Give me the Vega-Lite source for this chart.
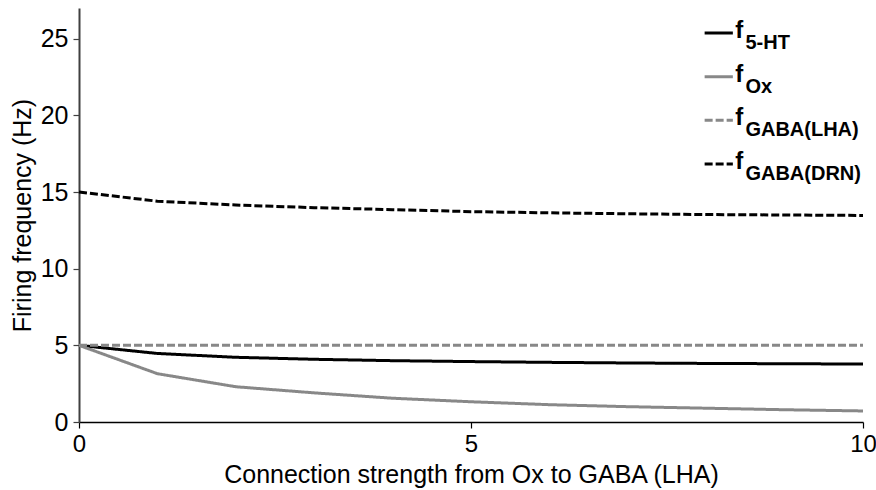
{
  "$schema": "https://vega.github.io/schema/vega-lite/v6.json",
  "width": 784,
  "height": 414,
  "autosize": "none",
  "padding": {"left": 79, "top": 8, "right": 13, "bottom": 68},
  "config": {
    "font": "Liberation Sans",
    "view": {"stroke": null},
    "axis": {"grid": false}
  },
  "datasets": {
    "curves": [
      {"g": 0, "series": "5-HT", "f": 5.0},
      {"g": 1, "series": "5-HT", "f": 4.47},
      {"g": 2, "series": "5-HT", "f": 4.22},
      {"g": 3, "series": "5-HT", "f": 4.09},
      {"g": 4, "series": "5-HT", "f": 4.0},
      {"g": 5, "series": "5-HT", "f": 3.94},
      {"g": 6, "series": "5-HT", "f": 3.89},
      {"g": 7, "series": "5-HT", "f": 3.85},
      {"g": 8, "series": "5-HT", "f": 3.82},
      {"g": 9, "series": "5-HT", "f": 3.8},
      {"g": 10, "series": "5-HT", "f": 3.78},
      {"g": 0, "series": "Ox", "f": 5.0},
      {"g": 1, "series": "Ox", "f": 3.15},
      {"g": 2, "series": "Ox", "f": 2.3},
      {"g": 3, "series": "Ox", "f": 1.9},
      {"g": 4, "series": "Ox", "f": 1.55},
      {"g": 5, "series": "Ox", "f": 1.32},
      {"g": 6, "series": "Ox", "f": 1.13},
      {"g": 7, "series": "Ox", "f": 1.0},
      {"g": 8, "series": "Ox", "f": 0.9},
      {"g": 9, "series": "Ox", "f": 0.8},
      {"g": 10, "series": "Ox", "f": 0.72},
      {"g": 0, "series": "GABA(LHA)", "f": 5.0},
      {"g": 1, "series": "GABA(LHA)", "f": 5.0},
      {"g": 2, "series": "GABA(LHA)", "f": 5.0},
      {"g": 3, "series": "GABA(LHA)", "f": 5.0},
      {"g": 4, "series": "GABA(LHA)", "f": 5.0},
      {"g": 5, "series": "GABA(LHA)", "f": 5.0},
      {"g": 6, "series": "GABA(LHA)", "f": 5.0},
      {"g": 7, "series": "GABA(LHA)", "f": 5.0},
      {"g": 8, "series": "GABA(LHA)", "f": 5.0},
      {"g": 9, "series": "GABA(LHA)", "f": 5.0},
      {"g": 10, "series": "GABA(LHA)", "f": 5.0},
      {"g": 0, "series": "GABA(DRN)", "f": 15.0},
      {"g": 1, "series": "GABA(DRN)", "f": 14.4},
      {"g": 2, "series": "GABA(DRN)", "f": 14.15},
      {"g": 3, "series": "GABA(DRN)", "f": 13.98},
      {"g": 4, "series": "GABA(DRN)", "f": 13.85},
      {"g": 5, "series": "GABA(DRN)", "f": 13.72},
      {"g": 6, "series": "GABA(DRN)", "f": 13.64},
      {"g": 7, "series": "GABA(DRN)", "f": 13.58},
      {"g": 8, "series": "GABA(DRN)", "f": 13.53},
      {"g": 9, "series": "GABA(DRN)", "f": 13.5},
      {"g": 10, "series": "GABA(DRN)", "f": 13.47}
    ],
    "keys": [
      {"series": "5-HT"},
      {"series": "Ox"},
      {"series": "GABA(LHA)"},
      {"series": "GABA(DRN)"}
    ]
  },
  "encoding": {
    "color": {
      "field": "series",
      "type": "nominal",
      "scale": {
        "domain": ["5-HT", "Ox", "GABA(LHA)", "GABA(DRN)"],
        "range": ["#000000", "#888888", "#888888", "#000000"]
      },
      "legend": null
    },
    "strokeDash": {
      "field": "series",
      "type": "nominal",
      "scale": {
        "domain": ["5-HT", "Ox", "GABA(LHA)", "GABA(DRN)"],
        "range": [[1, 0], [1, 0], [8, 3], [8, 3]]
      },
      "legend": null
    }
  },
  "layer": [
    {
      "data": {"name": "curves"},
      "mark": {"type": "line", "strokeWidth": 3},
      "encoding": {
        "x": {
          "field": "g",
          "type": "quantitative",
          "scale": {"domain": [0, 10], "nice": false, "zero": false},
          "axis": {
            "values": [0, 5, 10],
            "format": "d",
            "title": "Connection strength from Ox to GABA (LHA)",
            "labelFlush": false,
            "labelFontSize": 24,
            "labelColor": "#000000",
            "labelPadding": 4,
            "tickSize": 6,
            "tickColor": "#000000",
            "tickWidth": 1.2,
            "domainColor": "#000000",
            "domainWidth": 1.5,
            "titleFontSize": 25,
            "titleFontWeight": "normal",
            "titleColor": "#000000",
            "titlePadding": 6,
            "titleLimit": 800
          }
        },
        "y": {
          "field": "f",
          "type": "quantitative",
          "scale": {"domain": [0, 27], "nice": false},
          "axis": {
            "values": [0, 5, 10, 15, 20, 25],
            "format": "d",
            "title": "Firing frequency (Hz)",
            "labelFontSize": 25,
            "labelColor": "#000000",
            "labelPadding": 5,
            "tickSize": 6,
            "tickColor": "#404040",
            "tickWidth": 1.2,
            "domainColor": "#404040",
            "domainWidth": 2,
            "titleFontSize": 25,
            "titleFontWeight": "normal",
            "titleColor": "#000000",
            "titlePadding": 5,
            "titleLimit": 600
          }
        },
        "detail": {"field": "series"}
      }
    },
    {
      "data": {"name": "keys"},
      "encoding": {
        "y": {
          "field": "series",
          "type": "ordinal",
          "scale": {
            "type": "point",
            "domain": ["5-HT", "Ox", "GABA(LHA)", "GABA(DRN)"],
            "range": [25, 156],
            "padding": 0
          },
          "axis": null
        }
      },
      "layer": [
        {
          "mark": {"type": "rule", "strokeWidth": 3},
          "encoding": {
            "x": {"datum": 7.98, "type": "quantitative"},
            "x2": {"datum": 8.34}
          }
        },
        {
          "mark": {
            "type": "text",
            "text": "f",
            "align": "left",
            "baseline": "alphabetic",
            "dy": 5,
            "fontSize": 24,
            "fontWeight": "bold",
            "color": "#000000"
          },
          "encoding": {
            "x": {"datum": 8.37, "type": "quantitative"},
            "color": {"value": "#000000"},
            "strokeDash": {"value": [1, 0]}
          }
        },
        {
          "mark": {
            "type": "text",
            "align": "left",
            "baseline": "alphabetic",
            "dy": 16,
            "fontSize": 20,
            "fontWeight": "bold"
          },
          "encoding": {
            "x": {"datum": 8.5, "type": "quantitative"},
            "text": {"field": "series"},
            "color": {"value": "#000000"},
            "strokeDash": {"value": [1, 0]}
          }
        }
      ]
    }
  ],
  "resolve": {"scale": {"y": "independent"}}
}
